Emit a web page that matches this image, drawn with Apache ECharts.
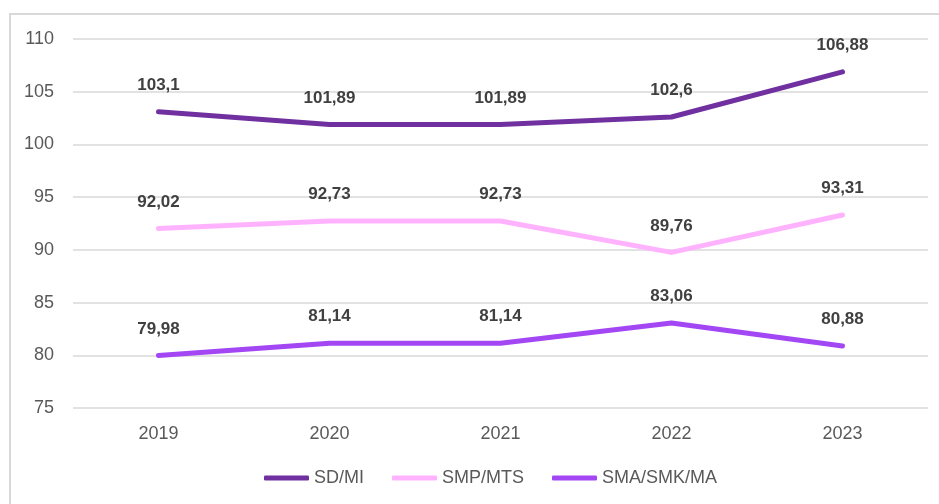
<!DOCTYPE html>
<html>
<head>
<meta charset="utf-8">
<script src="https://cdn.jsdelivr.net/npm/echarts@6/dist/echarts.min.js"></script>
<style>
    html,body{margin:0;padding:0;background:#fff;}
    #chartEle{width:939px;height:504px;}
</style>
</head>
<body>
<div id="chartEle"></div>
<script>
var years = ['2019', '2020', '2021', '2022', '2023'];
var sdMi = [103.1, 101.89, 101.89, 102.6, 106.88];
var smpMts = [92.02, 92.73, 92.73, 89.76, 93.31];
var smaSmkMa = [79.98, 81.14, 81.14, 83.06, 80.88];
var seriesNames = ['SD/MI', 'SMP/MTS', 'SMA/SMK/MA'];
var seriesColors = ['#7030A0', '#FFB3FF', '#A347F5'];

var fontName = '"Liberation Sans", Arial, sans-serif';

function makeSeries(name, data, color){
    return {
        name: name,
        type: 'line',
        data: data,
        symbol: 'circle',
        symbolSize: 0,
        showSymbol: true,
        lineStyle: { width: 5, color: color, cap: 'round', join: 'round' },
        itemStyle: { color: color },
        label: {
            show: true,
            position: 'top',
            distance: 18,
            color: '#404040',
            fontWeight: 'bold',
            fontSize: 17,
            fontFamily: fontName,
            formatter: function(p){ return String(p.value).replace('.', ','); }
        }
    };
}

var myChart = echarts.init(document.getElementById('chartEle'));
var option = {
    animation: false,
    graphic: [{
        type: 'rect',
        shape: { x: 10, y: 14, width: 960, height: 520 },
        style: { fill: 'none', stroke: '#d9d9d9', lineWidth: 2 }
    }],
    legend: {
        bottom: 12,
        left: 259,
        itemWidth: 45,
        itemHeight: 5,
        itemGap: 28,
        icon: 'roundRect',
        textStyle: { color: '#595959', fontSize: 18, fontFamily: fontName },
        data: seriesNames
    },
    grid: {
        left: 73,
        right: 11,
        top: 39,
        bottom: 96
    },
    xAxis: {
        type: 'category',
        data: years,
        boundaryGap: true,
        axisLine: { show: false },
        axisTick: { show: false },
        axisLabel: { color: '#595959', fontSize: 18, fontFamily: fontName, margin: 17 }
    },
    yAxis: {
        type: 'value',
        min: 75,
        max: 110,
        interval: 5,
        axisLine: { show: false },
        axisTick: { show: false },
        splitLine: { lineStyle: { color: '#d9d9d9', width: 1.5 } },
        axisLabel: { color: '#595959', fontSize: 18, fontFamily: fontName, margin: 19 }
    },
    series: [
        makeSeries(seriesNames[0], sdMi, seriesColors[0]),
        makeSeries(seriesNames[1], smpMts, seriesColors[1]),
        makeSeries(seriesNames[2], smaSmkMa, seriesColors[2])
    ]
};
myChart.setOption(option, true);
</script>
</body>
</html>
